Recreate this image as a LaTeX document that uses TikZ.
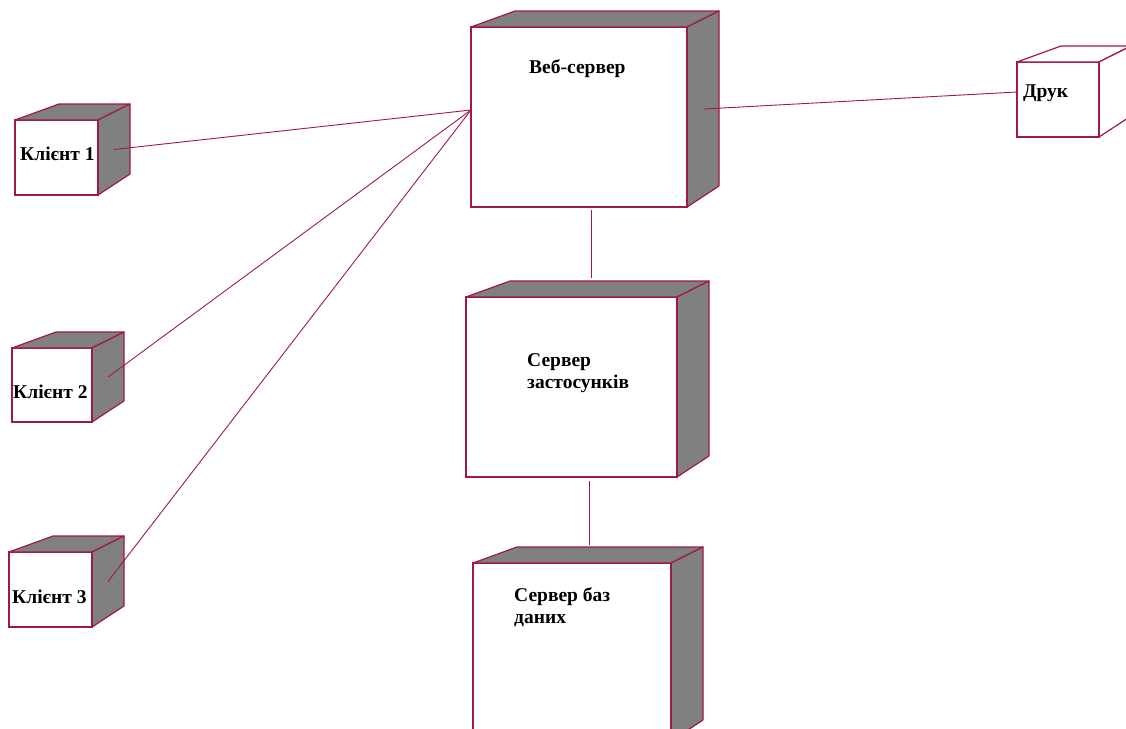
\documentclass[tikz,border=0pt]{standalone}
\usepackage{fontspec}
\setmainfont{Liberation Serif}
\usetikzlibrary{positioning,calc}

\definecolor{nodeline}{RGB}{160,24,72}
\definecolor{nodeside}{RGB}{128,128,128}

\begin{document}
\begin{tikzpicture}[x=1pt, y=-1pt,
	front/.style={draw=nodeline, line width=1.2pt, fill=white, anchor=north west, inner sep=0pt, outer sep=0pt},
	face/.style={draw=nodeline, line width=1.2pt, fill=nodeside, line join=round},
	link/.style={draw=nodeline, line width=0.9pt},
	title/.style={font=\fontsize{19.5}{21.5}\selectfont\bfseries, anchor=base west, inner sep=0pt, align=left}]
	\useasboundingbox (0,0) rectangle (1126,728);
	\clip (0,0) rectangle (1126,728);

	% front faces of the nodes
	\node [front, minimum width=83, minimum height=75] (k1) at (15,120) {};
	\node [front, minimum width=80, minimum height=74] (k2) at (12,348) {};
	\node [front, minimum width=83, minimum height=75] (k3) at (9,552) {};
	\node [front, minimum width=216, minimum height=180] (web) at (471,27) {};
	\node [front, minimum width=211, minimum height=180] (app) at (466,297) {};
	\node [front, minimum width=198, minimum height=178] (db) at (473,563) {};
	\node [front, minimum width=82, minimum height=75] (druk) at (1017,62) {};

	% top and side of each box
	\foreach \n in {k1,k2,k3,web,app,db} {
		\filldraw [face] (\n.north west) -- ++(44,-16) -- ($(\n.north east)+(32,-16)$) -- (\n.north east) -- cycle;
		\filldraw [face] (\n.north east) -- ++(32,-16) -- ($(\n.south east)+(32,-21)$) -- (\n.south east) -- cycle;
		\draw [draw=nodeline, line width=2pt] (\n.north east) -- (\n.south east);
	}
	\filldraw [face, fill=white] (druk.north west) -- ++(44,-16) -- ($(druk.north east)+(32,-16)$) -- (druk.north east) -- cycle;
	\filldraw [face, fill=white] (druk.north east) -- ++(32,-16) -- ($(druk.south east)+(32,-21)$) -- (druk.south east) -- cycle;
	\draw [draw=nodeline, line width=2pt] (druk.north east) -- (druk.south east);

	% labels (base of the last line)
	\node [title] (k1txt) at (20,160) {Клієнт 1};
	\node [title] (k2txt) at (13,398) {Клієнт 2};
	\node [title] (k3txt) at (12,603) {Клієнт 3};
	\node [title] (webtxt) at (529,73) {Веб-сервер};
	\node [title] (apptxt) at (527,388) {Сервер\\застосунків};
	\node [title] (dbtxt) at (514,623) {Сервер баз\\даних};
	\node [title] (druktxt) at (1023,97) {Друк};

	% connection points
	\coordinate (webin) at ($(web.west)+(0,-7)$);
	\coordinate (webout) at ($(web.east)+(17,-8)$);
	\coordinate (drukin) at ($(druk.west)+(0,-7.5)$);
	\foreach \n in {k1,k2,k3}
		\coordinate (\n port) at ($(\n.east)+(16,-8)$);

	% links
	\foreach \n in {k1,k2,k3}
		\draw [link] (\n port) -- (webin);
	\draw [link] (webout) -- (drukin);
	\draw [link] ($(web.south)+(12,3)$) -- ($(app.north)+(19.5,-19)$);
	\draw [link] ($(app.south)+(17.5,4)$) -- ($(db.north)+(17,-18)$);
\end{tikzpicture}
\end{document}
